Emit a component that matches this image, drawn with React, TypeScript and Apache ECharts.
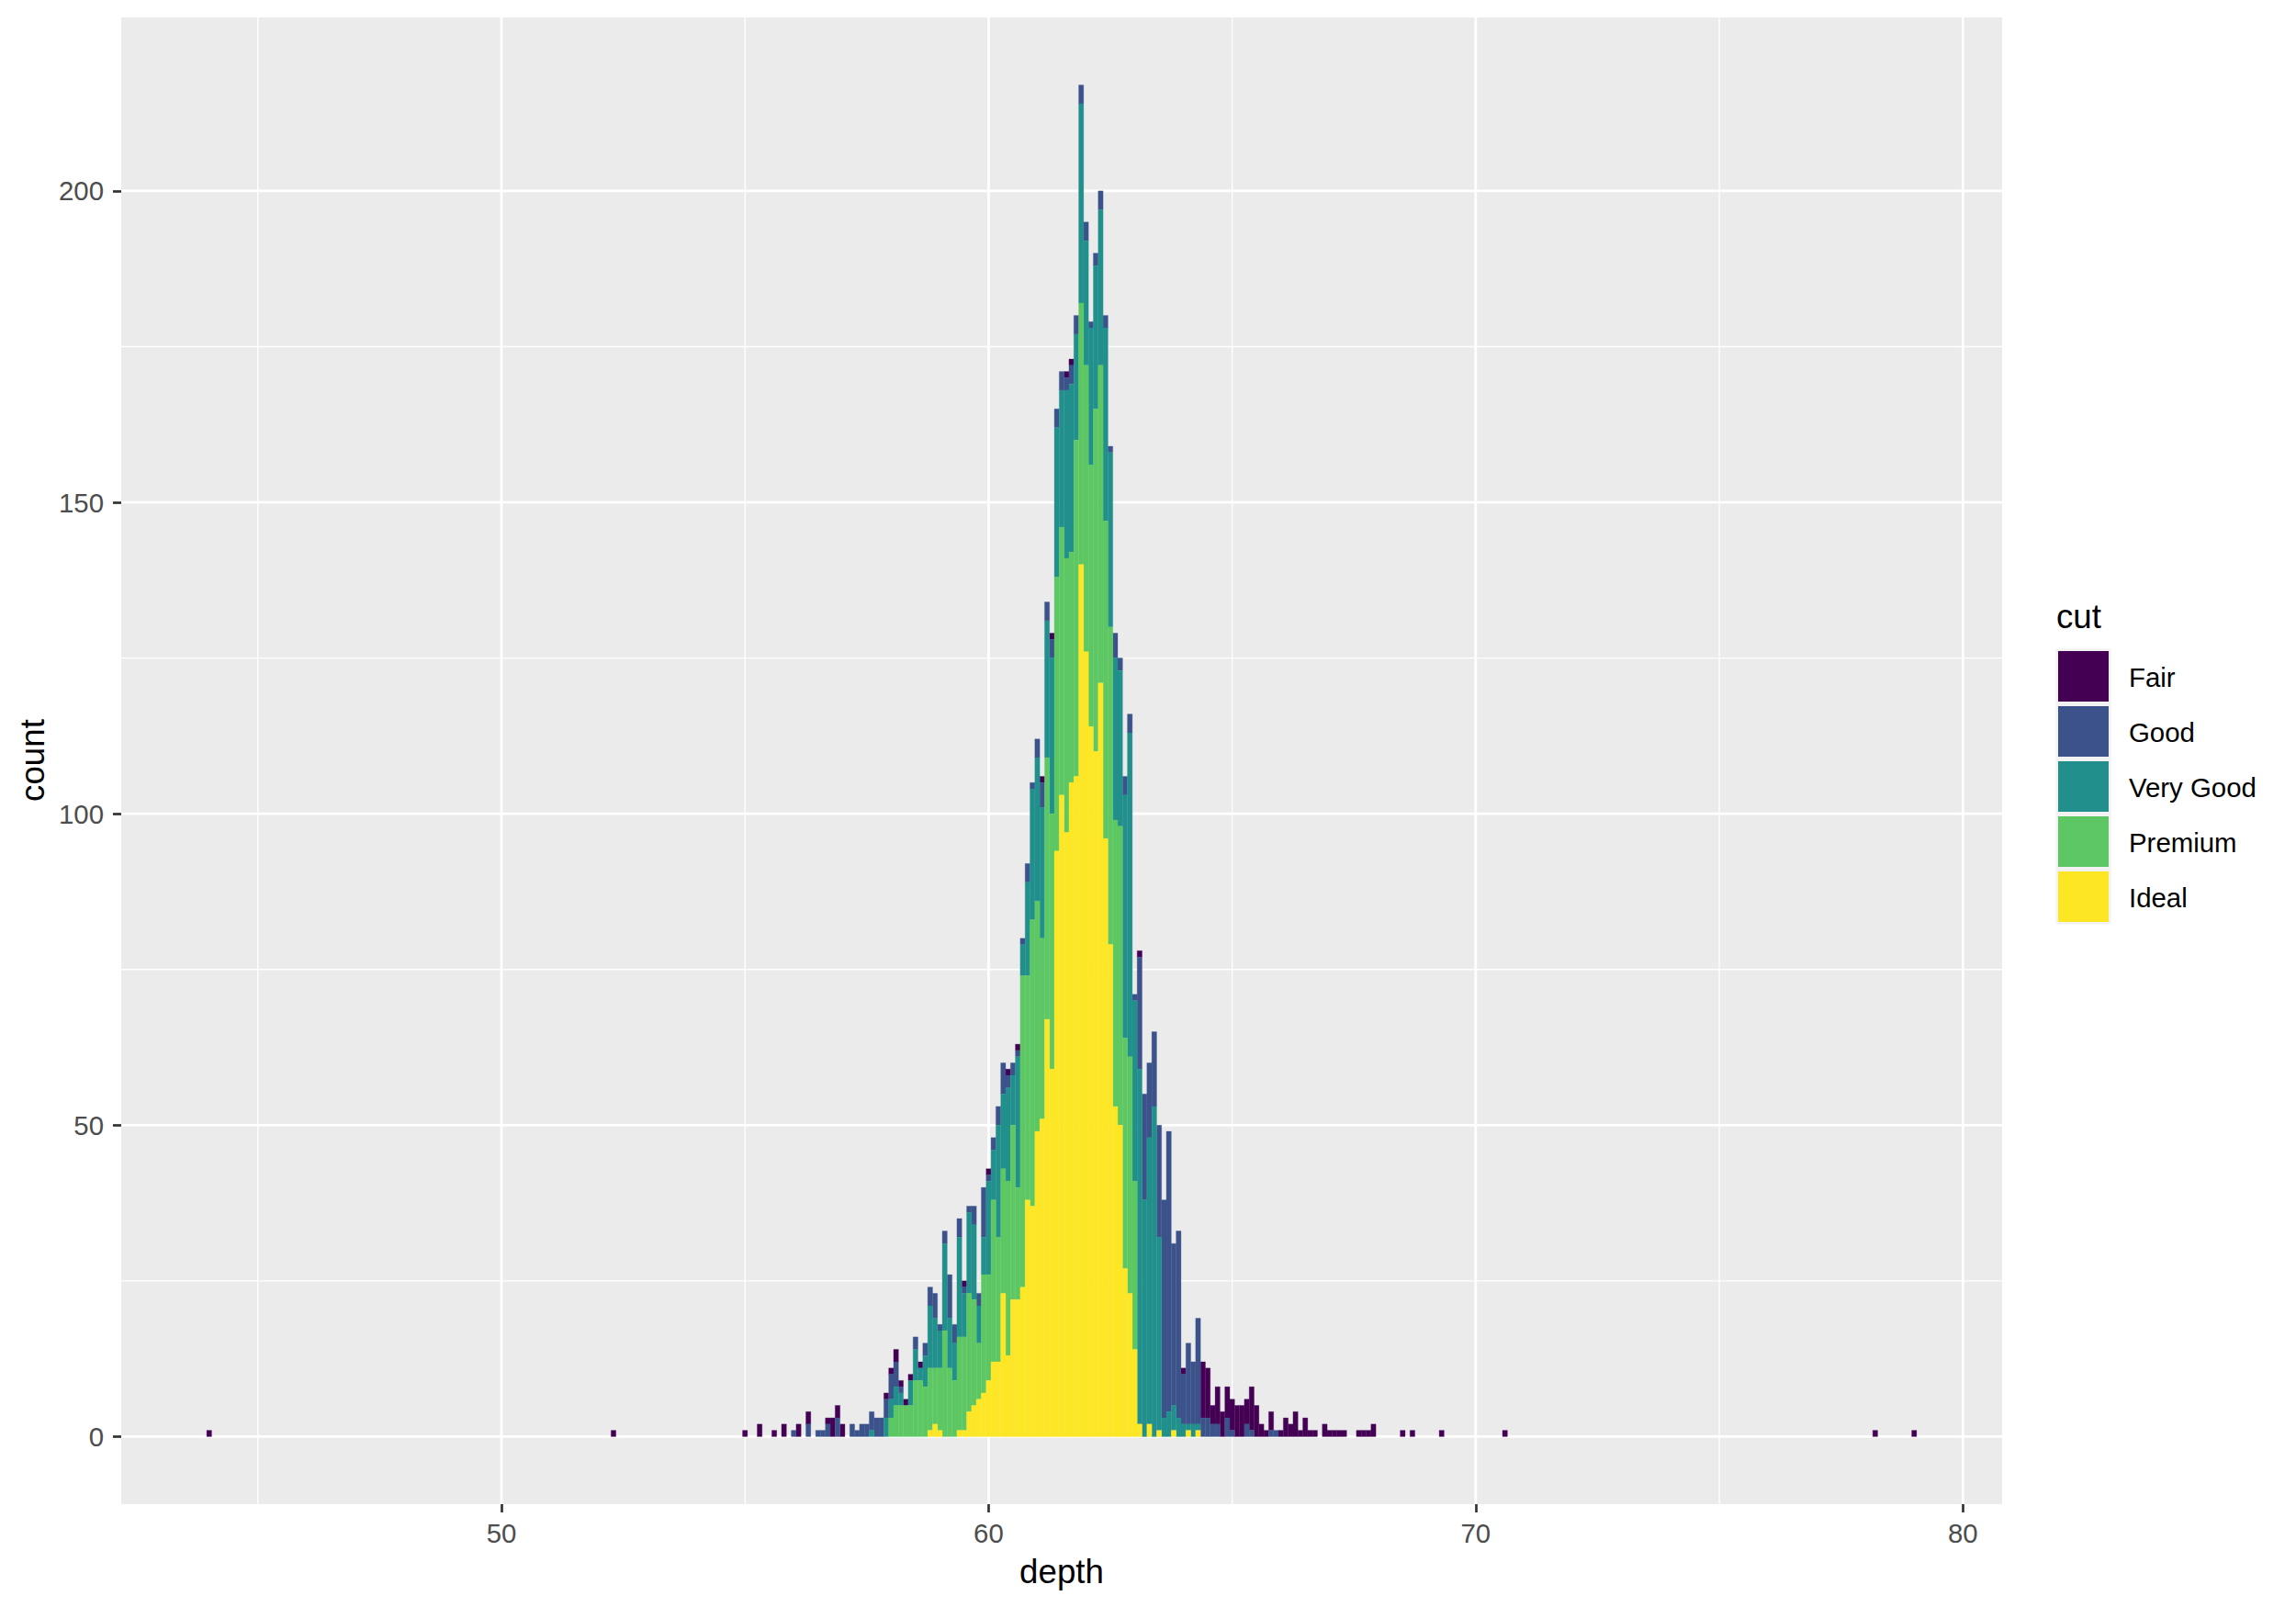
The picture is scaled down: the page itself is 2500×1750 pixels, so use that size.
import React, { useEffect, useRef } from "react";
import * as echarts from "echarts";

const cuts = ["Fair", "Good", "Very Good", "Premium", "Ideal"];
const cutColors = ["#440154", "#3B528B", "#21908C", "#5DC863", "#FDE725"];

// [depth bin centre, count]
const fairCounts = [[44.0,1],[52.3,1],[55.0,1],[55.3,2],[55.6,1],[55.8,2],[56.1,2],[56.3,2],[56.7,1],[56.8,3],[56.9,2],[57.0,2],[57.9,1],[58.0,1],[58.1,2],[58.2,1],[58.3,1],[58.4,1],[58.6,1],[59.5,1],[60.0,1],[60.4,1],[60.6,1],[61.1,1],[61.3,1],[61.6,1],[61.7,1],[63.1,1],[64.0,1],[64.4,9],[64.5,8],[64.6,3],[64.7,6],[64.8,4],[64.9,5],[65.0,5],[65.1,5],[65.2,5],[65.3,4],[65.4,7],[65.5,5],[65.6,2],[65.7,1],[65.8,3],[66.0,1],[66.1,3],[66.2,2],[66.3,4],[66.4,1],[66.5,3],[66.6,1],[66.7,1],[66.9,2],[67.0,1],[67.1,1],[67.2,1],[67.3,1],[67.6,1],[67.7,1],[67.8,1],[67.9,2],[68.5,1],[68.7,1],[69.3,1],[70.6,1],[78.2,1],[79.0,1]];
const goodCounts = [[56.0,1],[56.3,2],[56.5,1],[56.6,1],[56.7,2],[56.9,3],[57.2,2],[57.3,1],[57.4,2],[57.5,2],[57.6,3],[57.7,3],[57.8,3],[57.9,3],[58.0,4],[58.1,4],[58.2,1],[58.5,2],[58.7,2],[58.8,3],[58.9,4],[59.0,1],[59.1,2],[59.2,7],[59.3,3],[59.4,3],[59.5,1],[59.6,1],[59.7,3],[59.8,2],[59.9,8],[60.0,1],[60.1,2],[60.2,3],[60.3,5],[60.4,2],[60.5,2],[60.6,1],[60.7,1],[60.8,3],[60.9,1],[61.0,3],[61.1,4],[61.2,3],[61.3,3],[61.4,3],[61.5,3],[61.6,2],[61.7,3],[61.8,3],[61.9,3],[62.0,3],[62.1,1],[62.2,2],[62.3,3],[62.4,2],[62.5,1],[62.6,4],[62.7,2],[62.8,3],[62.9,3],[63.0,1],[63.1,18],[63.2,17],[63.3,12],[63.4,12],[63.5,18],[63.6,35],[63.7,45],[63.8,26],[63.9,30],[64.0,8],[64.1,13],[64.2,10],[64.3,17],[64.4,3],[64.5,3],[64.6,2],[64.7,2],[64.9,3],[65.0,1],[65.3,2],[65.4,1],[65.8,1],[65.9,1]];
const veryGoodCounts = [[57.6,1],[57.9,3],[58.0,3],[58.1,3],[58.2,2],[58.4,4],[58.5,5],[58.6,2],[58.7,5],[58.8,10],[58.9,8],[59.0,6],[59.1,14],[59.2,8],[59.3,6],[59.4,16],[59.5,7],[59.6,13],[59.7,12],[59.8,6],[59.9,6],[60.0,15],[60.1,8],[60.2,18],[60.3,12],[60.4,15],[60.5,8],[60.6,21],[60.7,5],[60.8,15],[60.9,21],[61.0,23],[61.1,21],[61.2,22],[61.3,25],[61.4,24],[61.5,22],[61.6,27],[61.7,27],[61.8,17],[61.9,32],[62.0,20],[62.1,22],[62.2,23],[62.3,25],[62.4,31],[62.5,28],[62.6,26],[62.7,25],[62.8,39],[62.9,52],[63.0,29],[63.1,57],[63.2,38],[63.3,46],[63.4,53],[63.5,31],[63.6,3],[63.7,4],[63.8,4],[63.9,3],[64.0,2],[64.1,1],[64.2,2],[64.3,1]];
const premiumCounts = [[58.0,3],[58.1,5],[58.2,5],[58.3,5],[58.4,5],[58.5,9],[58.6,9],[58.7,8],[58.8,10],[58.9,9],[59.0,10],[59.1,17],[59.2,11],[59.3,9],[59.4,15],[59.5,15],[59.6,19],[59.7,17],[59.8,9],[59.9,19],[60.0,17],[60.1,26],[60.2,20],[60.3,20],[60.4,28],[60.5,28],[60.6,18],[60.7,50],[60.8,36],[60.9,46],[61.0,37],[61.1,29],[61.2,42],[61.3,41],[61.4,44],[61.5,43],[61.6,44],[61.7,37],[61.8,54],[61.9,42],[62.0,46],[62.1,42],[62.2,55],[62.3,51],[62.4,51],[62.5,51],[62.6,46],[62.7,48],[62.8,37],[62.9,38],[63.0,27]];
const idealCounts = [[58.8,1],[58.9,2],[59.0,1],[59.4,1],[59.5,1],[59.6,4],[59.7,5],[59.8,6],[59.9,7],[60.0,9],[60.1,12],[60.2,12],[60.3,23],[60.4,13],[60.5,22],[60.6,22],[60.7,24],[60.8,38],[60.9,37],[61.0,49],[61.1,51],[61.2,67],[61.3,59],[61.4,94],[61.5,103],[61.6,97],[61.7,105],[61.8,106],[61.9,140],[62.0,126],[62.1,114],[62.2,110],[62.3,121],[62.4,96],[62.5,79],[62.6,53],[62.7,50],[62.8,27],[62.9,23],[63.0,14],[63.1,2],[63.3,2],[63.5,1],[63.8,1],[64.1,1],[64.3,1]];

const xTicks = [50, 60, 70, 80];
const xMinorTicks = [45, 55, 65, 75];
const yTicks = [0, 50, 100, 150, 200];
const yMinorTicks = [25, 75, 125, 175];

const binWidth = 0.1;
const xMin = 42.195;
const xMax = 80.805;
const yMin = -10.85;
const yMax = 227.85;

const FONT = "'Liberation Sans', Arial, sans-serif";

function buildStacks() {
  // stacking bottom -> top: Ideal, Premium, Very Good, Good, Fair
  const byCut = [fairCounts, goodCounts, veryGoodCounts, premiumCounts, idealCounts];
  const base: Record<string, number> = {};
  const out: number[][][] = [[], [], [], [], []];
  for (let ci = 4; ci >= 0; ci--) {
    for (const [d, c] of byCut[ci]) {
      const k = d.toFixed(1);
      const b = base[k] || 0;
      out[ci].push([d, b, b + c]);
      base[k] = b + c;
    }
  }
  return out;
}

export default function App() {
  const ref = useRef<HTMLDivElement>(null);
  useEffect(() => {
    if (!ref.current) return;
    const chart = echarts.init(ref.current, null, { renderer: "svg" });
    const stacks = buildStacks();

    const barSeries = cuts.map((name, ci) => ({
      name,
      type: "custom",
      z: 3,
      data: stacks[ci],
      encode: { x: 0, y: [1, 2] },
      itemStyle: { color: cutColors[ci] },
      renderItem: (params: any, api: any) => {
        const x = api.value(0);
        const y0 = api.value(1);
        const y1 = api.value(2);
        const a = api.coord([x - binWidth / 2, y1]);
        const b = api.coord([x + binWidth / 2, y0]);
        return {
          type: "rect",
          shape: { x: a[0], y: a[1], width: b[0] - a[0], height: b[1] - a[1] },
          style: { fill: cutColors[ci], stroke: cutColors[ci], lineWidth: 0.3 },
        };
      },
    }));

    const vLines = [
      ...xMinorTicks.map((v) => [v, 0]),
      ...xTicks.map((v) => [v, 1]),
    ];
    const hLines = [
      ...yMinorTicks.map((v) => [v, 0]),
      ...yTicks.map((v) => [v, 1]),
    ];

    const gridSeries = [
      {
        name: "vgrid",
        type: "custom",
        silent: true,
        z: 1,
        data: vLines,
        encode: { x: 0, y: 1 },
        renderItem: (params: any, api: any) => {
          const cs = params.coordSys;
          const x = api.coord([api.value(0), 0])[0];
          return {
            type: "line",
            shape: { x1: x, y1: cs.y, x2: x, y2: cs.y + cs.height },
            style: { stroke: "#FFFFFF", lineWidth: api.value(1) ? 2.7 : 1.35 },
          };
        },
      },
      {
        name: "hgrid",
        type: "custom",
        silent: true,
        z: 1,
        data: hLines.map((h) => [xMin + 1, h[0], h[1]]),
        encode: { x: 0, y: 1 },
        renderItem: (params: any, api: any) => {
          const cs = params.coordSys;
          const y = api.coord([50, api.value(1)])[1];
          return {
            type: "line",
            shape: { x1: cs.x, y1: y, x2: cs.x + cs.width, y2: y },
            style: { stroke: "#FFFFFF", lineWidth: api.value(2) ? 2.7 : 1.35 },
          };
        },
      },
    ];

    const legendGraphics: any[] = [
      {
        type: "text",
        x: 2239,
        y: 671,
        style: {
          text: "cut",
          fontSize: 36.7,
          fontFamily: FONT,
          fill: "#000000",
          verticalAlign: "middle",
          align: "left",
        },
      },
      {
        type: "rect",
        shape: { x: 2238.5, y: 706.5, width: 60, height: 300 },
        style: { fill: "#F2F2F2" },
      },
    ];
    cuts.forEach((name, i) => {
      legendGraphics.push({
        type: "rect",
        shape: { x: 2241, y: 709 + 60 * i, width: 55, height: 55 },
        style: { fill: cutColors[i] },
      });
      legendGraphics.push({
        type: "text",
        x: 2318,
        y: 737 + 60 * i,
        style: {
          text: name,
          fontSize: 29.4,
          fontFamily: FONT,
          fill: "#000000",
          verticalAlign: "middle",
          align: "left",
        },
      });
    });

    const option: any = {
      animation: false,
      backgroundColor: "#FFFFFF",
      grid: {
        left: 132,
        top: 19,
        width: 2048,
        height: 1619,
        show: true,
        backgroundColor: "#EBEBEB",
        borderWidth: 0,
      },
      xAxis: {
        type: "value",
        min: xMin,
        max: xMax,
        axisLine: { show: false, onZero: false },
        splitLine: { show: false },
        axisTick: {
          show: true,
          length: 9,
          customValues: xTicks,
          lineStyle: { color: "#333333", width: 2.7 },
        },
        axisLabel: {
          customValues: xTicks,
          color: "#4D4D4D",
          fontSize: 29.4,
          fontFamily: FONT,
          margin: 17,
        },
      },
      yAxis: {
        type: "value",
        min: yMin,
        max: yMax,
        axisLine: { show: false, onZero: false },
        splitLine: { show: false },
        axisTick: {
          show: true,
          length: 9,
          customValues: yTicks,
          lineStyle: { color: "#333333", width: 2.7 },
        },
        axisLabel: {
          customValues: yTicks,
          color: "#4D4D4D",
          fontSize: 29.4,
          fontFamily: FONT,
          margin: 19,
        },
      },
      graphic: [
        {
          type: "text",
          x: 1156,
          y: 1711,
          style: {
            text: "depth",
            fontSize: 36.7,
            fontFamily: FONT,
            fill: "#000000",
            align: "center",
            verticalAlign: "middle",
          },
        },
        {
          type: "text",
          x: 35,
          y: 828,
          rotation: Math.PI / 2,
          style: {
            text: "count",
            fontSize: 36.7,
            fontFamily: FONT,
            fill: "#000000",
            align: "center",
            verticalAlign: "middle",
          },
        },
        ...legendGraphics,
      ],
      series: [...gridSeries, ...barSeries],
    };
    chart.setOption(option);
    return () => chart.dispose();
  }, []);
  return (
    <div
      ref={ref}
      style={{ position: "absolute", left: 0, top: 0, width: 2500, height: 1750 }}
    />
  );
}
